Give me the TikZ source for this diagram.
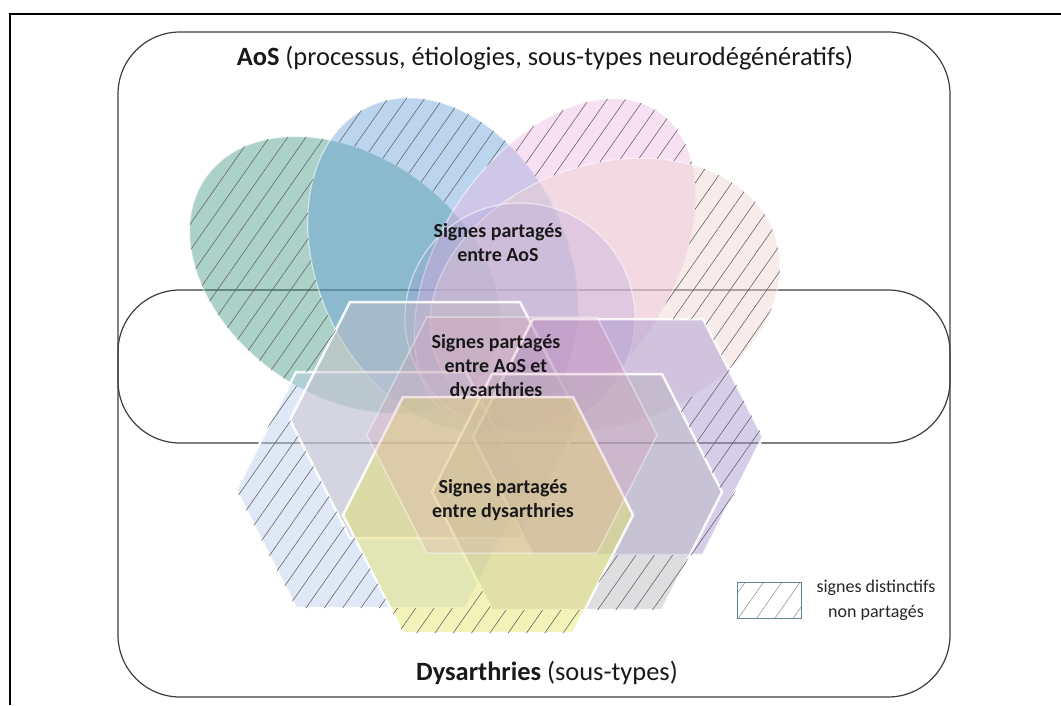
\documentclass[tikz,border=0pt]{standalone}
\usepackage{fontspec}
\setmainfont{Carlito}
\usetikzlibrary{patterns.meta}

\definecolor{aosteal}{RGB}{55,145,125}
\definecolor{aosblue}{RGB}{95,155,215}
\definecolor{aospink}{RGB}{235,181,225}
\definecolor{aospeach}{RGB}{235,209,205}
\definecolor{aoslav}{RGB}{170,150,215}
\definecolor{dyblue}{RGB}{185,205,235}
\definecolor{dygrey}{RGB}{200,190,198}
\definecolor{dyrose}{RGB}{225,140,170}
\definecolor{dyyellow}{RGB}{228,228,100}
\definecolor{dygray}{RGB}{181,181,189}
\definecolor{dypurple}{RGB}{165,145,205}
\definecolor{boxline}{RGB}{60,60,60}

\newcommand\hexat[2]{(#1-145,#2)--(#1-85,#2-118)--(#1+85,#2-118)--(#1+145,#2)--(#1+85,#2+118)--(#1-85,#2+118)--cycle}
\def\pteal{(345,275) ellipse [x radius=170,y radius=120]}
\def\pblue{(443,265) ellipse [x radius=175,y radius=125]}
\def\ppink{(555,265) ellipse [x radius=185,y radius=115]}
\def\ppeach{(605,295) ellipse [x radius=180,y radius=130]}
\def\pcore{(520,318) circle [radius=115]}
\def\phblue{\hexat{381}{490}}
\def\phgrey{\hexat{435}{420}}
\def\phrose{\hexat{512}{435}}
\def\phyel{\hexat{488}{515}}
\def\phgray{\hexat{577}{492}}
\def\phpurp{\hexat{618}{437}}

\tikzset{
  tr teal/.style={rotate around={-35:(345,275)}},
  tr blue/.style={rotate around={-65:(443,265)}},
  tr pink/.style={rotate around={56:(555,265)}},
  tr peach/.style={rotate around={20:(605,295)}},
  tr core/.style={}, tr hblue/.style={}, tr hgrey/.style={}, tr hrose/.style={},
  tr hyel/.style={}, tr hgray/.style={}, tr hpurp/.style={},
  setbox/.style={draw=boxline,line width=1.2pt,rounded corners=62pt},
  petal/.style={fill opacity=.42,draw=white,draw opacity=.55,line width=1.2pt},
  hexa/.style={fill opacity=.45,draw=white,draw opacity=.9,line width=2.5pt},
  hatch/.style={pattern={Lines[angle=55,distance=15pt,line width=.6pt]},pattern color=black!60},
  lbl/.style={font=\bfseries\fontsize{20}{24}\selectfont,align=center,text=black!90}
}

\begin{document}
\begin{tikzpicture}[x=1pt,y=-1pt]
  \useasboundingbox (0,0) rectangle (1061,705);
  \draw[line width=1.5pt] (10,705) -- (10,14) -- (1061,14);
  \draw[setbox] (118,32) rectangle (950,443);
  \draw[setbox] (118,290) rectangle (950,697);

  \foreach \s/\c in {teal/aosteal,blue/aosblue,pink/aospink,peach/aospeach}
    \path[tr \s,petal,fill=\c] \csname p\s\endcsname;
  \path[petal,fill=aoslav,fill opacity=.25] \pcore;
  \foreach \s/\c in {hblue/dyblue,hgrey/dygrey,hpurp/dypurple,hgray/dygray,hyel/dyyellow}
    \path[hexa,fill=\c] \csname p\s\endcsname;
  \path[hexa,fill=dyrose,fill opacity=.2,draw opacity=.4,line width=1.5pt] \phrose;

  \foreach \s in {teal,blue,pink,peach,hblue,hyel,hgray,hpurp}{
    \begin{scope}[even odd rule]
      \clip[tr \s] \csname p\s\endcsname;
      \foreach \t in {teal,blue,pink,peach,core,hblue,hgrey,hrose,hyel,hgray,hpurp}{
        \ifx\s\t\else
          \clip[tr \t] \csname p\t\endcsname (-2000,-2000) rectangle (3000,3000);
        \fi}
      \fill[hatch] (0,0) rectangle (1061,705);
    \end{scope}}

  \fill[white] (737,582) rectangle (801,618);
  \fill[hatch,pattern color=black!40] (737,582) rectangle (801,618);
  \draw[line width=1pt,draw={rgb,255:red,100;green,130;blue,150}] (737,582) rectangle (801,618);
  \node[font=\fontsize{18}{25}\selectfont,align=center,text=black!85] (legend) at (876,600) {signes distinctifs\\non partagés};

  \node[lbl] (sharedaos) at (498,243) {Signes partagés\\entre AoS};
  \node[lbl] (sharedall) at (496,367) {Signes partagés\\entre AoS et\\dysarthries};
  \node[lbl] (shareddys) at (503,500) {Signes partagés\\entre dysarthries};
  \node[font=\fontsize{26.4}{30}\selectfont,anchor=base,text=black!90] (aos) at (545,65) {\textbf{AoS} (processus, étiologies, sous-types neurodégénératifs)};
  \node[font=\fontsize{26.4}{30}\selectfont,anchor=base,text=black!90] (dys) at (547,680) {\textbf{Dysarthries} (sous-types)};
\end{tikzpicture}
\end{document}
